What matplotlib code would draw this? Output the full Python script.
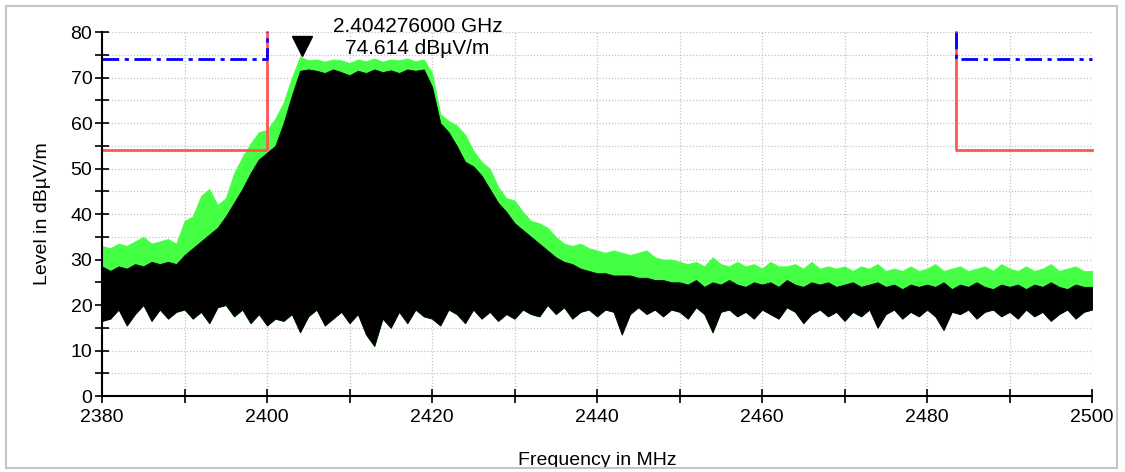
import matplotlib
import matplotlib.pyplot as plt
import matplotlib.transforms as mtransforms
import numpy as np
from matplotlib.patches import Rectangle

matplotlib.use("Agg")

# frequency grid in MHz (1 MHz steps, 2380 .. 2500)
freq_mhz = np.arange(2380, 2501)

# max-hold trace (green)
green_peak = [
    33, 32.5, 33.5, 33, 34, 35, 33.5, 34, 34.5, 33.5,          # 2380
    38.5, 39.5, 44, 45.5, 42, 43.5, 49, 52.5, 55.5, 58,        # 2390
    58.5, 61, 64.5, 70, 74.6, 73.8, 74, 73.5, 74, 73.8,        # 2400
    73.2, 74, 73.6, 74.2, 73.5, 74, 73.8, 74.2, 73.6, 74,      # 2410
    71, 62, 60.5, 59.5, 57.5, 54, 51.5, 50, 46, 43.5,          # 2420
    43, 40.5, 38.5, 38, 37, 35, 33.5, 33, 33.5, 32.5,          # 2430
    32, 31.5, 32, 31.5, 31, 31.5, 32, 30.5, 30, 30,            # 2440
    29.5, 29, 29.5, 28.5, 30.5, 29, 28.5, 29.5, 28.5, 29,      # 2450
    28, 29.5, 28.5, 28.5, 29, 28, 29.5, 28, 28.5, 28,          # 2460
    28.5, 27.5, 28.5, 28, 29, 27.5, 28, 27.5, 28.5, 27.5,      # 2470
    28, 29, 27.5, 28, 28.5, 27.5, 28, 28.5, 27.5, 29,          # 2480
    28, 27.5, 28.5, 27.5, 28, 29, 27.5, 28, 28.5, 27.5,        # 2490
    27.5,                                                      # 2500
]

# clear-write trace (black): upper edge and deepest dips
black_peak = [
    28.5, 27.5, 28.5, 28, 29, 28.5, 29.5, 29, 29.5, 29,
    31, 32.5, 34, 35.5, 37, 39.5, 42.5, 45.5, 49, 52,
    53.5, 55, 60, 66, 71.5, 71.8, 71.5, 71, 71.8, 71.2,
    70.5, 71.5, 71, 71.8, 71.2, 71.6, 71, 71.8, 71.5, 71.8,
    68, 60, 58, 55, 51.5, 50.5, 48.5, 45.5, 42.5, 40.5,
    38, 36.5, 35, 33.5, 32, 30.5, 29.5, 29, 28, 27.5,
    27, 27, 26.5, 26.5, 26.5, 26, 26, 25.5, 25.5, 25,
    25, 24.5, 25.5, 24, 25, 24.5, 25.5, 24.5, 24, 25,
    24.5, 25, 24, 25.5, 24.5, 24, 25, 24.5, 25, 24,
    24.5, 25, 24, 24.5, 25, 24, 24.5, 23.5, 24.5, 24,
    24.5, 24, 25, 23.5, 24.5, 24, 25, 24, 23.5, 24.5,
    24, 24.5, 23.5, 24.5, 24, 25, 24, 23.5, 24.5, 24,
    24,
]
black_floor = [
    16.5, 17, 19, 15.5, 18, 20, 16.5, 19, 17, 18.5,
    19, 17, 18.5, 16, 19.5, 20, 17.5, 19, 16, 18,
    15.5, 17, 16.5, 18, 14, 17.5, 19, 15.5, 17, 18.5,
    16, 18, 13.5, 11, 17, 15, 18.5, 16, 19, 17.5,
    17, 15.5, 19, 18, 16, 19, 17, 18.5, 16.5, 18,
    17, 19, 18, 17.5, 20, 18, 19.5, 17, 18.5, 19,
    17.5, 19, 18.5, 13.5, 18, 19.5, 18, 19, 17.5, 19,
    18.5, 17, 19.5, 18, 14, 18.5, 19, 17.5, 18.5, 17,
    19, 18, 17, 19.5, 18.5, 16, 18, 19, 17.5, 18.5,
    16.5, 18.5, 17.5, 19, 15, 18, 19, 17, 18.5, 17.5,
    19, 17.5, 14.5, 18.5, 18, 19, 17, 18.5, 19, 17.5,
    18.5, 17, 19, 17.5, 18.5, 16.5, 18, 19, 17, 18.5,
    19,
]

# limit lines (dBuV/m) and restricted band edges (MHz)
band_edges = [2400, 2483.5]
avg_limit = 54
peak_limit = 74

marker_freq = 2404.276
marker_level = 74.614
marker_label = "2.404276000 GHz\n74.614 dBµV/m"

plt.rcParams["font.family"] = ["Liberation Sans", "DejaVu Sans"]

fig = plt.figure(figsize=(11.25, 4.72), dpi=100)
ax = fig.add_axes([0.0907, 0.161, 0.88, 0.771])

ax.fill_between(freq_mhz, black_floor, green_peak, color="#44ff44", lw=0.6,
                edgecolor="#44ff44", zorder=2)
ax.fill_between(freq_mhz, black_floor, black_peak, color="black", lw=0.6,
                edgecolor="black", zorder=3)

lo, hi = band_edges
ax.plot([2380, lo, lo], [avg_limit, avg_limit, 80], color="#ff5555", lw=2, zorder=4,
        clip_on=False)
ax.plot([hi, hi, 2500], [80, avg_limit, avg_limit], color="#ff5555", lw=2, zorder=4,
        clip_on=False)
ax.plot([2380, lo, lo], [peak_limit, peak_limit, 80], color="#0000ff", lw=2,
        ls=(0, (6, 2, 1.5, 2)), zorder=5, clip_on=False)
ax.plot([hi, hi, 2500], [80, peak_limit, peak_limit], color="#0000ff", lw=2,
        ls=(0, (6, 2, 1.5, 2)), zorder=5, clip_on=False)

# marker triangle sits just above the trace
tri_trans = mtransforms.offset_copy(ax.transData, fig=fig, y=7.5, units="points")
ax.plot([marker_freq], [marker_level], marker="v", ms=15, color="black",
        transform=tri_trans, clip_on=False, zorder=6)
ax.annotate(marker_label, xy=(marker_freq, marker_level), xytext=(83, 14),
            textcoords="offset points", ha="center", va="center", fontsize=15,
            annotation_clip=False)

ax.set_xlim(2380, 2500)
ax.set_ylim(0, 80)
ax.set_xticks(np.arange(2380, 2501, 20))
ax.set_xticks(np.arange(2390, 2500, 20), minor=True)
ax.set_yticks(np.arange(0, 81, 10))
ax.set_yticks(np.arange(5, 80, 10), minor=True)
ax.tick_params(which="both", direction="inout", length=10, width=1.2,
               labelsize=14, color="black")
ax.tick_params(axis="x", which="both", pad=4)
ax.tick_params(axis="y", which="both", pad=2)
ax.grid(True, which="both", color="#c4c4c4", ls=(0, (1, 1.5)), lw=0.9)
ax.set_axisbelow(True)

for side in ("top", "right"):
    ax.spines[side].set_visible(False)
for side in ("left", "bottom"):
    ax.spines[side].set_linewidth(1.5)
    ax.spines[side].set_zorder(7)

ax.set_ylabel("Level in dBµV/m", fontsize=14)
ax.set_xlabel("Frequency in MHz", fontsize=14, va="top")
ax.yaxis.set_label_coords(-0.052, 0.5)
ax.xaxis.set_label_coords(0.5, -0.153)

# light frame around the whole figure, cutting the bottom of the x label
fig.add_artist(Rectangle((0, 0), 1, 4.5 / 472, transform=fig.transFigure,
                         facecolor="white", edgecolor="none", zorder=20))
fig.add_artist(Rectangle((6 / 1125, 4.5 / 472), 1111 / 1125, 462 / 472,
                         transform=fig.transFigure, facecolor="none",
                         edgecolor="#c4c4c4", lw=1.5, zorder=21))

fig.savefig("out.png", dpi=100)
